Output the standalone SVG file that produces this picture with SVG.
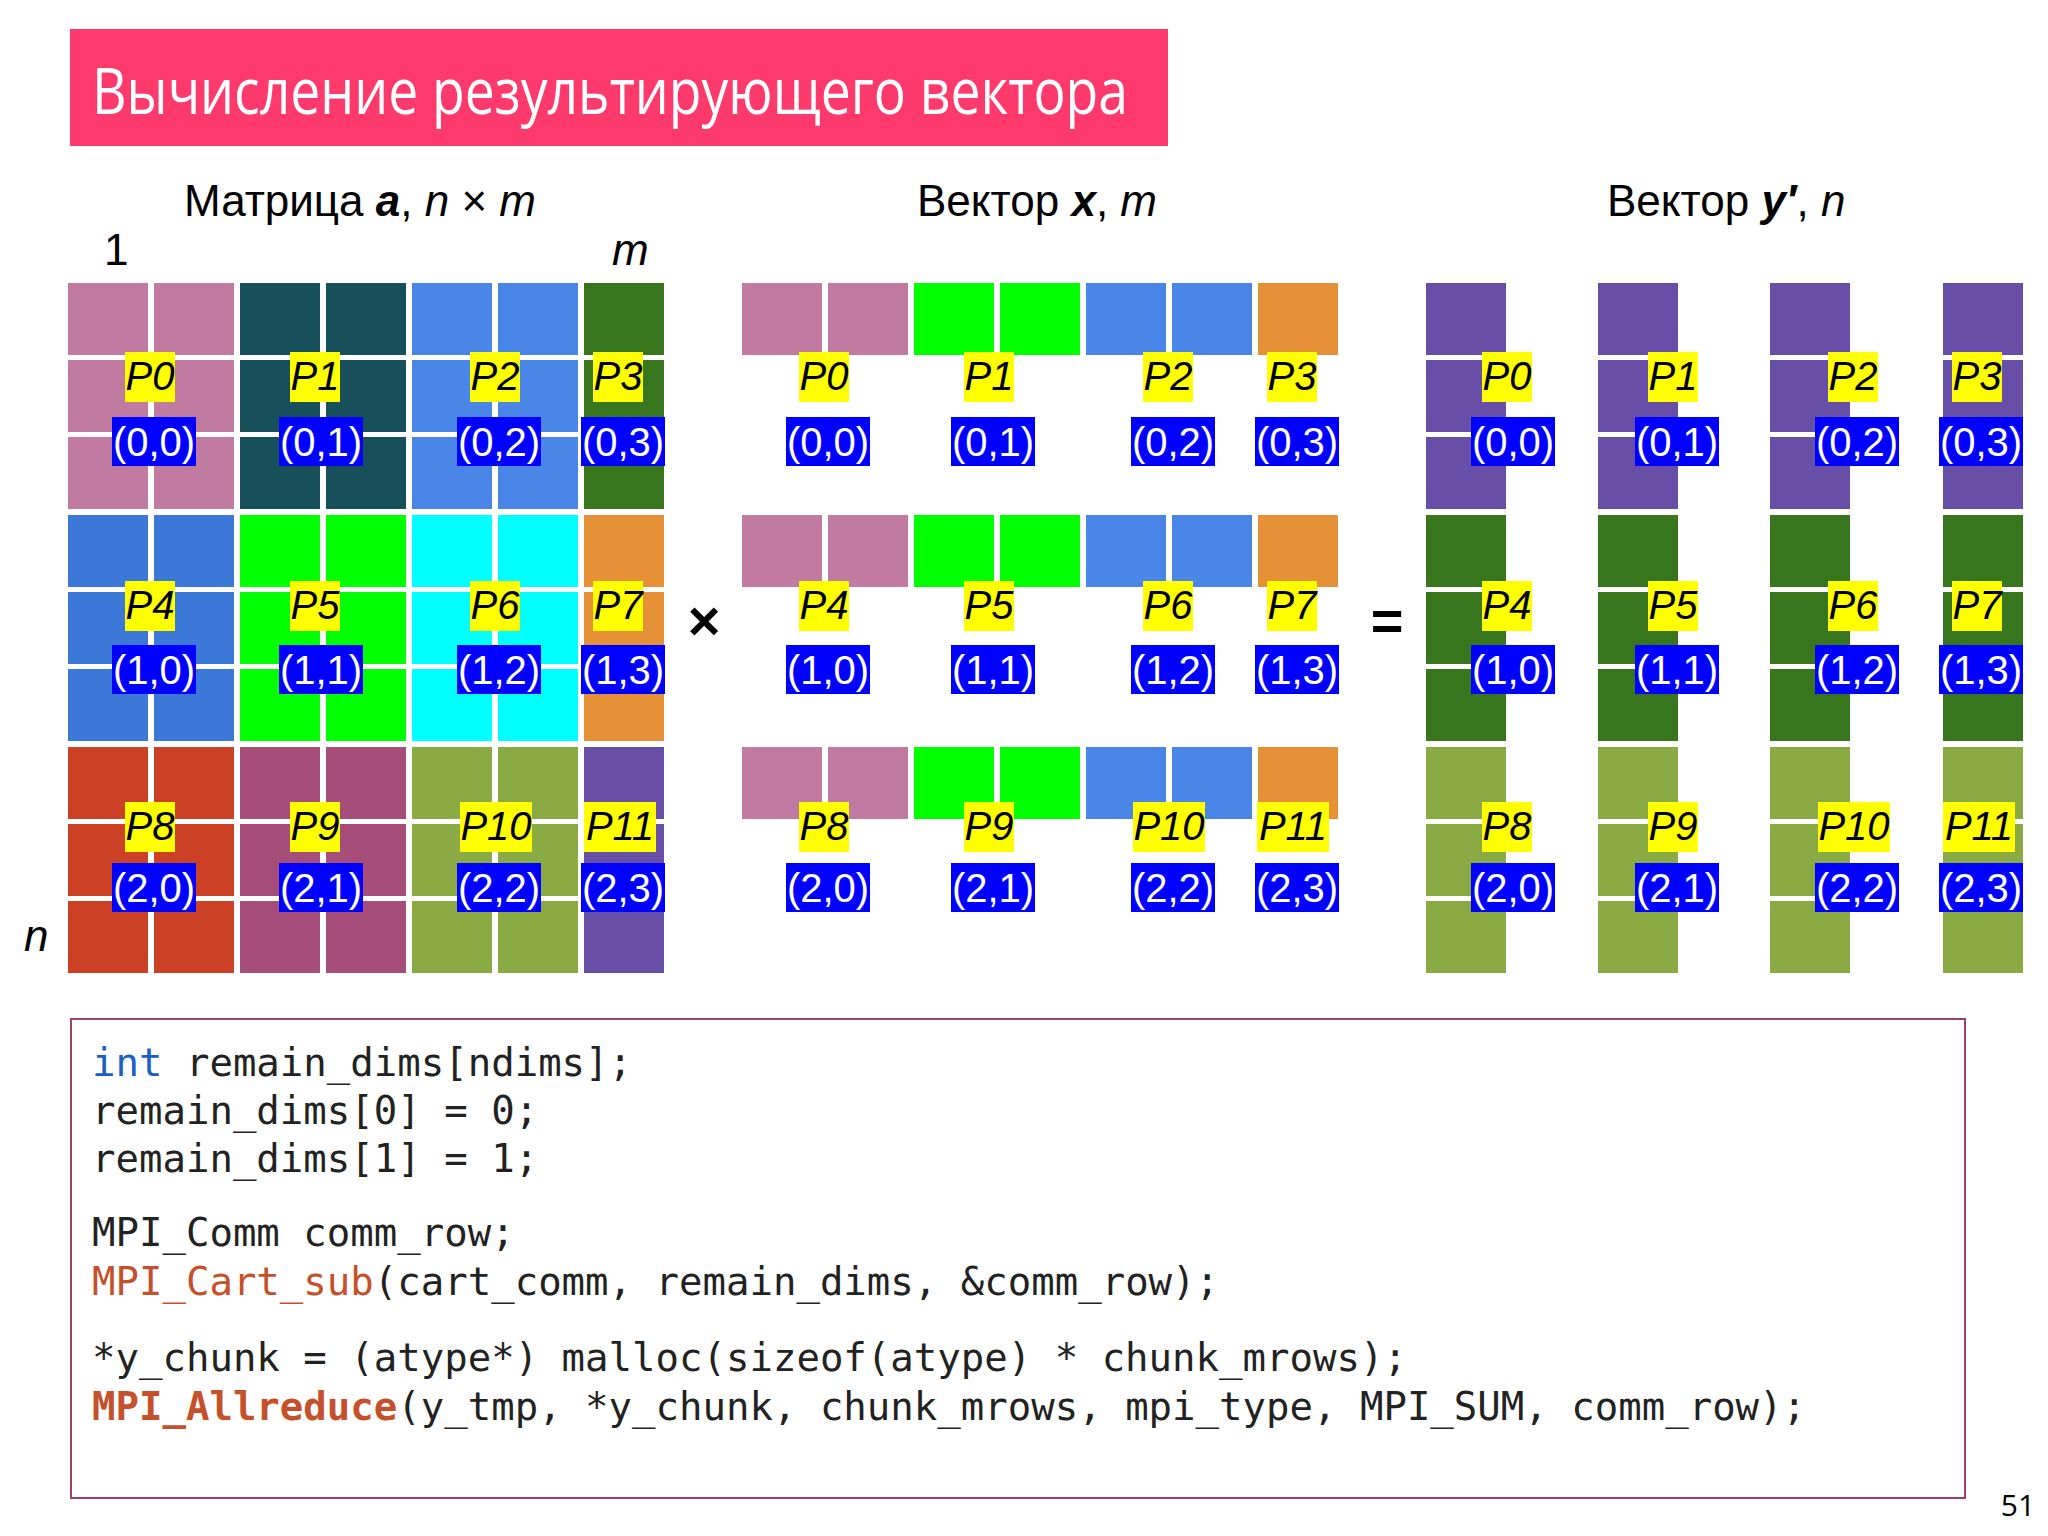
<svg xmlns="http://www.w3.org/2000/svg" width="2048" height="1536" viewBox="0 0 2048 1536">
<style>
.h{font-family:"Liberation Sans",Arial,sans-serif;font-size:44px;fill:#000}
.yl{fill:#ffff00}.bl{fill:#0000ff}
.pt{font-family:"Liberation Sans",Arial,sans-serif;font-size:40px;font-style:italic;fill:#000;text-anchor:middle}
.ct{font-family:"Liberation Sans",Arial,sans-serif;font-size:40px;fill:#fff;text-anchor:middle}
.w{fill:#fff}
.code{font-family:"DejaVu Sans Mono","Liberation Mono",monospace;font-size:39px;fill:#222;white-space:pre}
.kw{fill:#1a5fc4}.fn{fill:#c4512c}
</style>
<rect width="2048" height="1536" fill="#fff"/>
<g id="title">
<rect x="70" y="29" width="1098" height="117" fill="#fd3a6b"/>
<text x="92" y="114" font-family="Open Sans,Noto Sans,sans-serif" font-size="64" fill="#fff" textLength="1036" lengthAdjust="spacingAndGlyphs">Вычисление результирующего вектора</text>
</g>
<g id="headings" class="h">
<text class="h" x="184" y="216">Матрица <tspan font-weight="bold" font-style="italic">a</tspan>, <tspan font-style="italic">n</tspan> × <tspan font-style="italic">m</tspan></text>
<text class="h" x="104" y="265">1</text>
<text class="h" x="612" y="265" font-style="italic">m</text>
<text class="h" x="24" y="951" font-style="italic">n</text>
<text class="h" x="917" y="216">Вектор <tspan font-weight="bold" font-style="italic">x</tspan>, <tspan font-style="italic">m</tspan></text>
<text class="h" x="1607" y="216">Вектор <tspan font-weight="bold" font-style="italic">y′</tspan>, <tspan font-style="italic">n</tspan></text>
<text x="704" y="640" font-family="Liberation Sans,sans-serif" font-size="56" font-weight="bold" text-anchor="middle">×</text>
<text x="1387" y="640" font-family="Liberation Sans,sans-serif" font-size="56" font-weight="bold" text-anchor="middle">=</text>
</g>
<g id="matrix-a">
<rect x="68" y="283" width="166" height="226" fill="#c27ba0"/>
<rect x="240" y="283" width="166" height="226" fill="#174f5a"/>
<rect x="412" y="283" width="166" height="226" fill="#4a86e8"/>
<rect x="584" y="283" width="80" height="226" fill="#38761d"/>
<rect x="68" y="515" width="166" height="226" fill="#3c78d8"/>
<rect x="240" y="515" width="166" height="226" fill="#00ff00"/>
<rect x="412" y="515" width="166" height="226" fill="#00ffff"/>
<rect x="584" y="515" width="80" height="226" fill="#e69138"/>
<rect x="68" y="747" width="166" height="226" fill="#cc4125"/>
<rect x="240" y="747" width="166" height="226" fill="#a64d79"/>
<rect x="412" y="747" width="166" height="226" fill="#8aab44"/>
<rect x="584" y="747" width="80" height="226" fill="#674ea7"/>
<rect class="w" x="148" y="283" width="6" height="690"/>
<rect class="w" x="320" y="283" width="6" height="690"/>
<rect class="w" x="492" y="283" width="6" height="690"/>
<rect class="w" x="68" y="355" width="596" height="5"/>
<rect class="w" x="68" y="432" width="596" height="5"/>
<rect class="w" x="68" y="587" width="596" height="5"/>
<rect class="w" x="68" y="664" width="596" height="5"/>
<rect class="w" x="68" y="819" width="596" height="5"/>
<rect class="w" x="68" y="896" width="596" height="5"/>
</g>
<g id="vector-x">
<rect x="742" y="283" width="166" height="72" fill="#c27ba0"/>
<rect x="914" y="283" width="166" height="72" fill="#00ff00"/>
<rect x="1086" y="283" width="166" height="72" fill="#4a86e8"/>
<rect x="1258" y="283" width="80" height="72" fill="#e69138"/>
<rect x="742" y="515" width="166" height="72" fill="#c27ba0"/>
<rect x="914" y="515" width="166" height="72" fill="#00ff00"/>
<rect x="1086" y="515" width="166" height="72" fill="#4a86e8"/>
<rect x="1258" y="515" width="80" height="72" fill="#e69138"/>
<rect x="742" y="747" width="166" height="72" fill="#c27ba0"/>
<rect x="914" y="747" width="166" height="72" fill="#00ff00"/>
<rect x="1086" y="747" width="166" height="72" fill="#4a86e8"/>
<rect x="1258" y="747" width="80" height="72" fill="#e69138"/>
<rect class="w" x="822" y="283" width="6" height="540"/>
<rect class="w" x="994" y="283" width="6" height="540"/>
<rect class="w" x="1166" y="283" width="6" height="540"/>
</g>
<g id="vector-y">
<rect x="1426" y="283" width="80" height="226" fill="#674ea7"/>
<rect x="1598" y="283" width="80" height="226" fill="#674ea7"/>
<rect x="1770" y="283" width="80" height="226" fill="#674ea7"/>
<rect x="1943" y="283" width="80" height="226" fill="#674ea7"/>
<rect x="1426" y="515" width="80" height="226" fill="#38761d"/>
<rect x="1598" y="515" width="80" height="226" fill="#38761d"/>
<rect x="1770" y="515" width="80" height="226" fill="#38761d"/>
<rect x="1943" y="515" width="80" height="226" fill="#38761d"/>
<rect x="1426" y="747" width="80" height="226" fill="#8aab44"/>
<rect x="1598" y="747" width="80" height="226" fill="#8aab44"/>
<rect x="1770" y="747" width="80" height="226" fill="#8aab44"/>
<rect x="1943" y="747" width="80" height="226" fill="#8aab44"/>
<rect class="w" x="1426" y="355" width="597" height="5"/>
<rect class="w" x="1426" y="432" width="597" height="5"/>
<rect class="w" x="1426" y="587" width="597" height="5"/>
<rect class="w" x="1426" y="664" width="597" height="5"/>
<rect class="w" x="1426" y="819" width="597" height="5"/>
<rect class="w" x="1426" y="896" width="597" height="5"/>
</g>
<g id="labels-a">
<rect class="yl" x="125" y="352" width="50" height="50"/><text class="pt" x="150" y="390">P0</text>
<rect class="yl" x="290" y="352" width="50" height="50"/><text class="pt" x="315" y="390">P1</text>
<rect class="yl" x="470" y="352" width="50" height="50"/><text class="pt" x="495" y="390">P2</text>
<rect class="yl" x="593" y="352" width="50" height="50"/><text class="pt" x="618" y="390">P3</text>
<rect class="bl" x="112" y="417" width="84" height="49"/><text class="ct" x="154" y="456">(0,0)</text>
<rect class="bl" x="279" y="417" width="84" height="49"/><text class="ct" x="321" y="456">(0,1)</text>
<rect class="bl" x="457" y="417" width="84" height="49"/><text class="ct" x="499" y="456">(0,2)</text>
<rect class="bl" x="581" y="417" width="84" height="49"/><text class="ct" x="623" y="456">(0,3)</text>
<rect class="yl" x="125" y="581" width="50" height="50"/><text class="pt" x="150" y="619">P4</text>
<rect class="yl" x="290" y="581" width="50" height="50"/><text class="pt" x="315" y="619">P5</text>
<rect class="yl" x="470" y="581" width="50" height="50"/><text class="pt" x="495" y="619">P6</text>
<rect class="yl" x="593" y="581" width="50" height="50"/><text class="pt" x="618" y="619">P7</text>
<rect class="bl" x="112" y="645" width="84" height="49"/><text class="ct" x="154" y="684">(1,0)</text>
<rect class="bl" x="279" y="645" width="84" height="49"/><text class="ct" x="321" y="684">(1,1)</text>
<rect class="bl" x="457" y="645" width="84" height="49"/><text class="ct" x="499" y="684">(1,2)</text>
<rect class="bl" x="581" y="645" width="84" height="49"/><text class="ct" x="623" y="684">(1,3)</text>
<rect class="yl" x="125" y="802" width="50" height="50"/><text class="pt" x="150" y="840">P8</text>
<rect class="yl" x="290" y="802" width="50" height="50"/><text class="pt" x="315" y="840">P9</text>
<rect class="yl" x="460" y="802" width="72" height="50"/><text class="pt" x="496" y="840">P10</text>
<rect class="yl" x="584" y="802" width="72" height="50"/><text class="pt" x="620" y="840">P11</text>
<rect class="bl" x="112" y="863" width="84" height="49"/><text class="ct" x="154" y="902">(2,0)</text>
<rect class="bl" x="279" y="863" width="84" height="49"/><text class="ct" x="321" y="902">(2,1)</text>
<rect class="bl" x="457" y="863" width="84" height="49"/><text class="ct" x="499" y="902">(2,2)</text>
<rect class="bl" x="581" y="863" width="84" height="49"/><text class="ct" x="623" y="902">(2,3)</text>
</g>
<g id="labels-x">
<rect class="yl" x="799" y="352" width="50" height="50"/><text class="pt" x="824" y="390">P0</text>
<rect class="yl" x="964" y="352" width="50" height="50"/><text class="pt" x="989" y="390">P1</text>
<rect class="yl" x="1143" y="352" width="50" height="50"/><text class="pt" x="1168" y="390">P2</text>
<rect class="yl" x="1267" y="352" width="50" height="50"/><text class="pt" x="1292" y="390">P3</text>
<rect class="bl" x="786" y="417" width="84" height="49"/><text class="ct" x="828" y="456">(0,0)</text>
<rect class="bl" x="951" y="417" width="84" height="49"/><text class="ct" x="993" y="456">(0,1)</text>
<rect class="bl" x="1131" y="417" width="84" height="49"/><text class="ct" x="1173" y="456">(0,2)</text>
<rect class="bl" x="1255" y="417" width="84" height="49"/><text class="ct" x="1297" y="456">(0,3)</text>
<rect class="yl" x="799" y="581" width="50" height="50"/><text class="pt" x="824" y="619">P4</text>
<rect class="yl" x="964" y="581" width="50" height="50"/><text class="pt" x="989" y="619">P5</text>
<rect class="yl" x="1143" y="581" width="50" height="50"/><text class="pt" x="1168" y="619">P6</text>
<rect class="yl" x="1267" y="581" width="50" height="50"/><text class="pt" x="1292" y="619">P7</text>
<rect class="bl" x="786" y="645" width="84" height="49"/><text class="ct" x="828" y="684">(1,0)</text>
<rect class="bl" x="951" y="645" width="84" height="49"/><text class="ct" x="993" y="684">(1,1)</text>
<rect class="bl" x="1131" y="645" width="84" height="49"/><text class="ct" x="1173" y="684">(1,2)</text>
<rect class="bl" x="1255" y="645" width="84" height="49"/><text class="ct" x="1297" y="684">(1,3)</text>
<rect class="yl" x="799" y="802" width="50" height="50"/><text class="pt" x="824" y="840">P8</text>
<rect class="yl" x="964" y="802" width="50" height="50"/><text class="pt" x="989" y="840">P9</text>
<rect class="yl" x="1133" y="802" width="72" height="50"/><text class="pt" x="1169" y="840">P10</text>
<rect class="yl" x="1257" y="802" width="72" height="50"/><text class="pt" x="1293" y="840">P11</text>
<rect class="bl" x="786" y="863" width="84" height="49"/><text class="ct" x="828" y="902">(2,0)</text>
<rect class="bl" x="951" y="863" width="84" height="49"/><text class="ct" x="993" y="902">(2,1)</text>
<rect class="bl" x="1131" y="863" width="84" height="49"/><text class="ct" x="1173" y="902">(2,2)</text>
<rect class="bl" x="1255" y="863" width="84" height="49"/><text class="ct" x="1297" y="902">(2,3)</text>
</g>
<g id="labels-y">
<rect class="yl" x="1482" y="352" width="50" height="50"/><text class="pt" x="1507" y="390">P0</text>
<rect class="yl" x="1648" y="352" width="50" height="50"/><text class="pt" x="1673" y="390">P1</text>
<rect class="yl" x="1828" y="352" width="50" height="50"/><text class="pt" x="1853" y="390">P2</text>
<rect class="yl" x="1952" y="352" width="50" height="50"/><text class="pt" x="1977" y="390">P3</text>
<rect class="bl" x="1471" y="417" width="84" height="49"/><text class="ct" x="1513" y="456">(0,0)</text>
<rect class="bl" x="1635" y="417" width="84" height="49"/><text class="ct" x="1677" y="456">(0,1)</text>
<rect class="bl" x="1815" y="417" width="84" height="49"/><text class="ct" x="1857" y="456">(0,2)</text>
<rect class="bl" x="1939" y="417" width="84" height="49"/><text class="ct" x="1981" y="456">(0,3)</text>
<rect class="yl" x="1482" y="581" width="50" height="50"/><text class="pt" x="1507" y="619">P4</text>
<rect class="yl" x="1648" y="581" width="50" height="50"/><text class="pt" x="1673" y="619">P5</text>
<rect class="yl" x="1828" y="581" width="50" height="50"/><text class="pt" x="1853" y="619">P6</text>
<rect class="yl" x="1952" y="581" width="50" height="50"/><text class="pt" x="1977" y="619">P7</text>
<rect class="bl" x="1471" y="645" width="84" height="49"/><text class="ct" x="1513" y="684">(1,0)</text>
<rect class="bl" x="1635" y="645" width="84" height="49"/><text class="ct" x="1677" y="684">(1,1)</text>
<rect class="bl" x="1815" y="645" width="84" height="49"/><text class="ct" x="1857" y="684">(1,2)</text>
<rect class="bl" x="1939" y="645" width="84" height="49"/><text class="ct" x="1981" y="684">(1,3)</text>
<rect class="yl" x="1482" y="802" width="50" height="50"/><text class="pt" x="1507" y="840">P8</text>
<rect class="yl" x="1648" y="802" width="50" height="50"/><text class="pt" x="1673" y="840">P9</text>
<rect class="yl" x="1818" y="802" width="72" height="50"/><text class="pt" x="1854" y="840">P10</text>
<rect class="yl" x="1943" y="802" width="72" height="50"/><text class="pt" x="1979" y="840">P11</text>
<rect class="bl" x="1471" y="863" width="84" height="49"/><text class="ct" x="1513" y="902">(2,0)</text>
<rect class="bl" x="1635" y="863" width="84" height="49"/><text class="ct" x="1677" y="902">(2,1)</text>
<rect class="bl" x="1815" y="863" width="84" height="49"/><text class="ct" x="1857" y="902">(2,2)</text>
<rect class="bl" x="1939" y="863" width="84" height="49"/><text class="ct" x="1981" y="902">(2,3)</text>
</g>
<g id="code">
<rect x="71" y="1019" width="1894" height="479" fill="#fff" stroke="#a3405f" stroke-width="2"/>
<text class="code" x="92" y="1076"><tspan class="kw">int</tspan> remain_dims[ndims];</text>
<text class="code" x="92" y="1124">remain_dims[0] = 0;</text>
<text class="code" x="92" y="1172">remain_dims[1] = 1;</text>
<text class="code" x="92" y="1246">MPI_Comm comm_row;</text>
<text class="code" x="92" y="1295"><tspan class="fn">MPI_Cart_sub</tspan>(cart_comm, remain_dims, &amp;comm_row);</text>
<text class="code" x="92" y="1371">*y_chunk = (atype*) malloc(sizeof(atype) * chunk_mrows);</text>
<text class="code" x="92" y="1420"><tspan class="fn" font-weight="bold">MPI_Allreduce</tspan>(y_tmp, *y_chunk, chunk_mrows, mpi_type, MPI_SUM, comm_row);</text>
</g>
<text x="2018" y="1516" font-family="Open Sans,sans-serif" font-size="30" fill="#000" text-anchor="middle">51</text>
</svg>
